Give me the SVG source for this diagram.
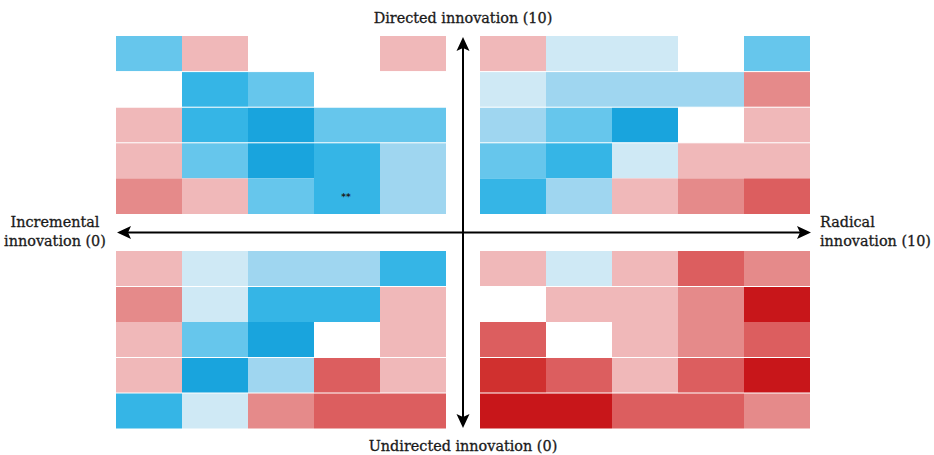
<svg xmlns="http://www.w3.org/2000/svg" width="934" height="455" viewBox="0 0 934 455">
<style>
.db{fill:#19a4dd}.b{fill:#35b5e6}.mb{fill:#66c6ec}.lb{fill:#9fd6f0}.vb{fill:#cfe9f5}
.lp{fill:#f0b8b9}.p{fill:#e58a8a}.r{fill:#dc5e5f}.sr{fill:#d0302f}.dr{fill:#c8161a}.w{fill:#ffffff}
.gap{stroke:#ffffff;stroke-width:1}
.lbl{font-family:"DejaVu Serif","Liberation Serif",serif;font-size:14.4px;fill:#1a1a1a;stroke:#1a1a1a;stroke-width:0.3px}
.ax{stroke:#000;stroke-width:2;fill:none}
</style>
<defs>
<marker id="ah" viewBox="-15 -7 16 14" refX="-11" refY="0" markerWidth="16" markerHeight="14" markerUnits="userSpaceOnUse" orient="auto-start-reverse">
<path d="M0,0 L-14,-6.5 L-11,0 L-14,6.5 Z" fill="#000"/>
</marker>
</defs>
<rect width="934" height="455" fill="#ffffff"/>

<!-- Top-left quadrant -->
<g id="q-top-left">
<rect class="mb" x="116" y="36" width="66" height="35.6"/>
<rect class="lp" x="182" y="36" width="66" height="35.6"/>
<rect class="lp" x="380" y="36" width="66" height="35.6"/>
<rect class="b" x="182" y="71.6" width="66" height="35.6"/>
<rect class="mb" x="248" y="71.6" width="66" height="35.6"/>
<rect class="lp" x="116" y="107.2" width="66" height="35.6"/>
<rect class="b" x="182" y="107.2" width="66" height="35.6"/>
<rect class="db" x="248" y="107.2" width="66" height="35.6"/>
<rect class="mb" x="314" y="107.2" width="132" height="35.6"/>
<rect class="lp" x="116" y="142.8" width="66" height="35.6"/>
<rect class="mb" x="182" y="142.8" width="66" height="35.6"/>
<rect class="db" x="248" y="142.8" width="66" height="35.6"/>
<rect class="b" x="314" y="142.8" width="66" height="71.2"/>
<rect class="lb" x="380" y="142.8" width="66" height="71.2"/>
<rect class="p" x="116" y="178.4" width="66" height="35.6"/>
<rect class="lp" x="182" y="178.4" width="66" height="35.6"/>
<rect class="mb" x="248" y="178.4" width="66" height="35.6"/>
<text x="346" y="200" text-anchor="middle" font-family="DejaVu Sans, sans-serif" font-size="9" font-weight="bold" fill="#1e1e1e">**</text>
</g>

<!-- Top-right quadrant -->
<g id="q-top-right">
<rect class="lp" x="480" y="36" width="66" height="35.6"/>
<rect class="vb" x="546" y="36" width="132" height="35.6"/>
<rect class="mb" x="744" y="36" width="66" height="35.6"/>
<rect class="vb" x="480" y="71.6" width="66" height="35.6"/>
<rect class="lb" x="546" y="71.6" width="198" height="35.6"/>
<rect class="p" x="744" y="71.6" width="66" height="35.6"/>
<rect class="lb" x="480" y="107.2" width="66" height="35.6"/>
<rect class="mb" x="546" y="107.2" width="66" height="35.6"/>
<rect class="db" x="612" y="107.2" width="66" height="35.6"/>
<rect class="lp" x="744" y="107.2" width="66" height="35.6"/>
<rect class="mb" x="480" y="142.8" width="66" height="35.6"/>
<rect class="b" x="546" y="142.8" width="66" height="35.6"/>
<rect class="vb" x="612" y="142.8" width="66" height="35.6"/>
<rect class="lp" x="678" y="142.8" width="132" height="35.6"/>
<rect class="b" x="480" y="178.4" width="66" height="35.6"/>
<rect class="lb" x="546" y="178.4" width="66" height="35.6"/>
<rect class="lp" x="612" y="178.4" width="66" height="35.6"/>
<rect class="p" x="678" y="178.4" width="66" height="35.6"/>
<rect class="r" x="744" y="178.4" width="66" height="35.6"/>
</g>

<!-- Bottom-left quadrant -->
<g id="q-bottom-left">
<rect class="lp" x="116" y="251" width="66" height="35.5"/>
<rect class="vb" x="182" y="251" width="66" height="35.5"/>
<rect class="lb" x="248" y="251" width="132" height="35.5"/>
<rect class="b" x="380" y="251" width="66" height="35.5"/>
<rect class="p" x="116" y="286.5" width="66" height="35.5"/>
<rect class="vb" x="182" y="286.5" width="66" height="35.5"/>
<rect class="b" x="248" y="286.5" width="132" height="35.5"/>
<rect class="lp" x="380" y="286.5" width="66" height="71"/>
<rect class="lp" x="116" y="322" width="66" height="35.5"/>
<rect class="mb" x="182" y="322" width="66" height="35.5"/>
<rect class="db" x="248" y="322" width="66" height="35.5"/>
<rect class="lp" x="116" y="357.5" width="66" height="35.5"/>
<rect class="db" x="182" y="357.5" width="66" height="35.5"/>
<rect class="lb" x="248" y="357.5" width="66" height="35.5"/>
<rect class="r" x="314" y="357.5" width="66" height="35.5"/>
<rect class="lp" x="380" y="357.5" width="66" height="35.5"/>
<rect class="b" x="116" y="393" width="66" height="35.5"/>
<rect class="vb" x="182" y="393" width="66" height="35.5"/>
<rect class="p" x="248" y="393" width="66" height="35.5"/>
<rect class="r" x="314" y="393" width="132" height="35.5"/>
</g>

<!-- Bottom-right quadrant -->
<g id="q-bottom-right">
<rect class="lp" x="480" y="251" width="66" height="35.5"/>
<rect class="vb" x="546" y="251" width="66" height="35.5"/>
<rect class="lp" x="612" y="251" width="66" height="35.5"/>
<rect class="r" x="678" y="251" width="66" height="35.5"/>
<rect class="p" x="744" y="251" width="66" height="35.5"/>
<rect class="lp" x="546" y="286.5" width="132" height="35.5"/>
<rect class="p" x="678" y="286.5" width="66" height="71"/>
<rect class="dr" x="744" y="286.5" width="66" height="35.5"/>
<rect class="r" x="480" y="322" width="66" height="35.5"/>
<rect class="lp" x="612" y="322" width="66" height="35.5"/>
<rect class="r" x="744" y="322" width="66" height="35.5"/>
<rect class="sr" x="480" y="357.5" width="66" height="35.5"/>
<rect class="r" x="546" y="357.5" width="66" height="35.5"/>
<rect class="lp" x="612" y="357.5" width="66" height="35.5"/>
<rect class="r" x="678" y="357.5" width="66" height="35.5"/>
<rect class="dr" x="744" y="357.5" width="66" height="35.5"/>
<rect class="dr" x="480" y="393" width="132" height="35.5"/>
<rect class="r" x="612" y="393" width="132" height="35.5"/>
<rect class="p" x="744" y="393" width="66" height="35.5"/>
</g>

<!-- thin white tile seams -->
<g id="seams" class="gap">
<line x1="116" y1="71.6" x2="446" y2="71.6"/>
<line x1="116" y1="107.2" x2="446" y2="107.2"/>
<line x1="116" y1="142.8" x2="446" y2="142.8"/>
<line x1="480" y1="71.6" x2="810" y2="71.6"/>
<line x1="480" y1="107.2" x2="810" y2="107.2"/>
<line x1="480" y1="142.8" x2="810" y2="142.8"/>
<line x1="116" y1="286.5" x2="446" y2="286.5"/>
<line x1="116" y1="357.5" x2="446" y2="357.5"/>
<line x1="116" y1="393" x2="446" y2="393"/>
<line x1="480" y1="286.5" x2="810" y2="286.5"/>
<line x1="480" y1="357.5" x2="810" y2="357.5"/>
<line x1="480" y1="393" x2="810" y2="393"/>
</g>

<!-- Axes -->
<g id="connectors">
<line class="ax" x1="128" y1="232.5" x2="800" y2="232.5" marker-start="url(#ah)" marker-end="url(#ah)"/>
<line class="ax" x1="463" y1="48" x2="463" y2="417" marker-start="url(#ah)" marker-end="url(#ah)"/>
</g>

<!-- Labels -->
<g id="label-top"><text class="lbl" x="463" y="23" text-anchor="middle">Directed innovation (10)</text></g>
<g id="label-bottom"><text class="lbl" x="463" y="451" text-anchor="middle">Undirected innovation (0)</text></g>
<g id="label-left">
<text class="lbl" x="55" y="227" text-anchor="middle">Incremental</text>
<text class="lbl" x="55" y="246" text-anchor="middle">innovation (0)</text>
</g>
<g id="label-right">
<text class="lbl" x="820" y="227">Radical</text>
<text class="lbl" x="820" y="246">innovation (10)</text>
</g>
</svg>
